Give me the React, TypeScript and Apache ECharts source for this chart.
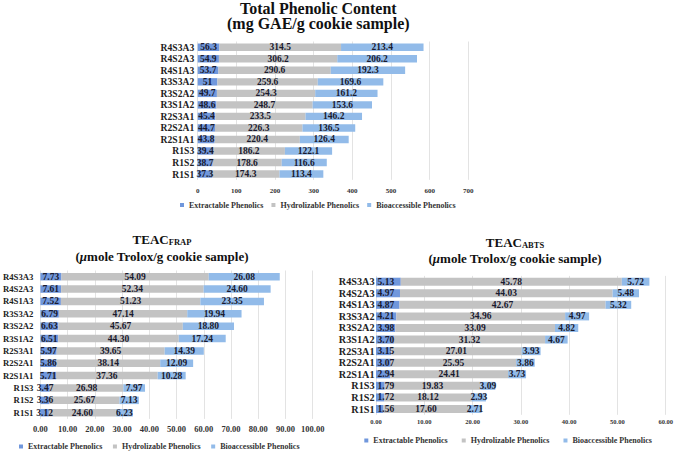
import React, { useEffect, useRef } from "react";
import * as echarts from "echarts";

const categories = ["R1S1", "R1S2", "R1S3", "R2S1A1", "R2S2A1", "R2S3A1", "R3S1A2", "R3S2A2", "R3S3A2", "R4S1A3", "R4S2A3", "R4S3A3"];
const seriesNames = ["Extractable Phenolics", "Hydrolizable Phenolics", "Bioaccessible Phenolics"];

const tpcExtractable = [37.3, 38.7, 39.4, 43.8, 44.7, 45.4, 48.6, 49.7, 51, 53.7, 54.9, 56.3];
const tpcHydrolizable = [174.3, 178.6, 186.2, 220.4, 226.3, 233.5, 248.7, 254.3, 259.6, 290.6, 306.2, 314.5];
const tpcBioaccessible = [113.4, 116.6, 122.1, 126.4, 136.5, 146.2, 153.6, 161.2, 169.6, 192.3, 206.2, 213.4];

const frapExtractable = [3.12, 3.36, 3.47, 5.71, 5.86, 5.97, 6.51, 6.63, 6.79, 7.52, 7.61, 7.73];
const frapHydrolizable = [24.6, 25.67, 26.98, 37.36, 38.14, 39.65, 44.3, 45.67, 47.14, 51.23, 52.34, 54.09];
const frapBioaccessible = [6.23, 7.13, 7.97, 10.28, 12.09, 14.39, 17.24, 18.8, 19.94, 23.35, 24.6, 26.08];

const abtsExtractable = [1.56, 1.72, 1.79, 2.94, 3.07, 3.15, 3.7, 3.98, 4.21, 4.87, 4.97, 5.13];
const abtsHydrolizable = [17.6, 18.12, 19.83, 24.41, 25.95, 27.01, 31.32, 33.09, 34.96, 42.67, 44.03, 45.78];
const abtsBioaccessible = [2.71, 2.93, 3.09, 3.73, 3.86, 3.93, 4.67, 4.82, 4.97, 5.32, 5.48, 5.72];

const tpcAxis = { max: 700, interval: 100 };
const frapAxis = { max: 100, interval: 10 };
const abtsAxis = { max: 60, interval: 10 };

const colors = ["#7097dc", "#c3c3c3", "#92bbe9"];
const FONT = "'Liberation Serif', 'Times New Roman', serif";

export default function App() {
  const ref = useRef<HTMLDivElement>(null);
  useEffect(() => {
    document.body.style.margin = "0";
    const chart = echarts.init(ref.current!, null, { renderer: "svg" });

    const grids = [
      { left: 197.7, top: 41.5, width: 270.6, height: 138.3 },
      { left: 37.7, top: 270.5, width: 275, height: 148.4 },
      { left: 376, top: 275.9, width: 291.7, height: 138.9 },
    ];
    const axes = [tpcAxis, frapAxis, abtsAxis];
    const xLabelSize = [7, 8.5, 6.5];
    const xLabelMargin = [8, 5.5, 3];
    const yLabelSize = [9.6, 8.7, 10.2];
    const yLabelMargin = [3.5, 7, 1.5];
    const barW = [7.4, 7.5, 8];
    const dataSets = [
      [tpcExtractable, tpcHydrolizable, tpcBioaccessible],
      [frapExtractable, frapHydrolizable, frapBioaccessible],
      [abtsExtractable, abtsHydrolizable, abtsBioaccessible],
    ];
    const fmt = [
      (v: number) => String(v),
      (v: number) => v.toFixed(2),
      (v: number) => v.toFixed(2),
    ];

    const xAxis = axes.map((a, i) => ({
      type: "value",
      gridIndex: i,
      min: 0,
      max: a.max,
      interval: a.interval,
      axisLine: { show: false },
      axisTick: { show: false },
      splitLine: { show: true, lineStyle: { color: "#e3e3e3", width: 1 } },
      axisLabel: {
        fontFamily: FONT,
        fontWeight: "bold",
        fontSize: xLabelSize[i],
        color: "#333",
        margin: xLabelMargin[i],
        formatter: (v: number) => fmt[i](v),
      },
    }));
    const yAxis = axes.map((_, i) => ({
      type: "category",
      gridIndex: i,
      data: categories,
      axisLine: { show: false },
      axisTick: { show: false },
      axisLabel: {
        interval: 0,
        fontFamily: FONT,
        fontWeight: "bold",
        fontSize: yLabelSize[i],
        color: "#222",
        margin: yLabelMargin[i],
      },
    }));

    const series: any[] = [];
    dataSets.forEach((set, i) => {
      set.forEach((vals, k) => {
        const baseAligned = i === 2 && k === 0;
        series.push({
          type: "bar",
          name: seriesNames[k],
          xAxisIndex: i,
          yAxisIndex: i,
          stack: "s" + i,
          barWidth: barW[i],
          data: vals,
          itemStyle: { color: colors[k] },
          label: {
            show: true,
            position: baseAligned ? "insideLeft" : "inside",
            distance: 1.5,
            fontFamily: FONT,
            fontWeight: "bold",
            fontSize: 9.5,
            color: "#1a1a2e",
            formatter: (p: any) => fmt[i](p.value),
          },
        });
      });
    });

    const legendBase = {
      data: seriesNames,
      icon: "rect",
      itemWidth: 4,
      itemHeight: 4,
      textStyle: { fontFamily: FONT, fontWeight: "bold", fontSize: 8, color: "#333" },
      selectedMode: false,
      padding: 0,
    };
    const legend = [
      { ...legendBase, left: 180, top: 201, itemGap: 8 },
      { ...legendBase, left: 19, top: 442.5, itemGap: 10.5 },
      { ...legendBase, left: 364.3, top: 436.5, itemGap: 14 },
    ];

    const titleRich = {
      t: { fontFamily: FONT, fontWeight: "bold", fontSize: 13, color: "#111", lineHeight: 15 },
      s: { fontFamily: FONT, fontWeight: "bold", fontSize: 8.5, color: "#111", verticalAlign: "bottom", lineHeight: 9 },
      i: { fontFamily: FONT, fontWeight: "bold", fontStyle: "italic", fontSize: 13, color: "#111", lineHeight: 15 },
    };
    const mkText = (x: number, y: number, text: string, size: number, lineHeight?: number) => ({
      type: "text",
      x,
      y,
      style: {
        text,
        align: "center",
        verticalAlign: "middle",
        textAlign: "center",
        textVerticalAlign: "middle",
        fontFamily: FONT,
        fontWeight: "bold",
        fontSize: size,
        lineHeight,
        fill: "#111",
        rich: titleRich,
      },
    });

    chart.setOption({
      animation: false,
      backgroundColor: "#ffffff",
      grid: grids.map((g) => ({ ...g, containLabel: false })),
      xAxis,
      yAxis,
      series,
      legend,
      graphic: [
        mkText(318.3, 15.8, "Total Phenolic Content\n(mg GAE/g cookie sample)", 16, 15.5),
        mkText(162, 239, "{t|TEAC}{s|FRAP}", 13),
        mkText(162, 256, "{t|(}{i|μ}{t|mole Trolox/g cookie sample)}", 13),
        mkText(515, 242, "{t|TEAC}{s|ABTS}", 13),
        mkText(515, 258.5, "{t|(}{i|μ}{t|mole Trolox/g cookie sample)}", 13),
      ],
    });
    return () => chart.dispose();
  }, []);
  return <div ref={ref} style={{ width: 676, height: 451 }} />;
}
